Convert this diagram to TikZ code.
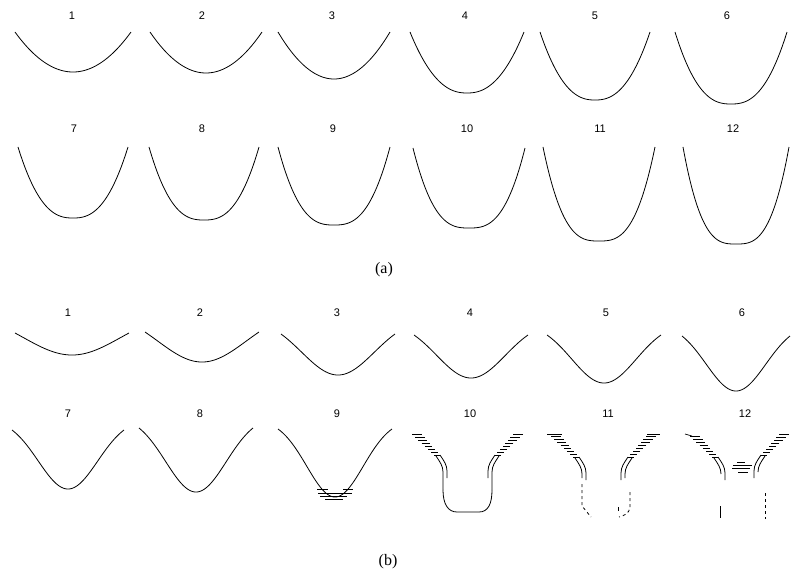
\documentclass[tikz,border=0pt]{standalone}
\usepackage{fontspec}
\setmainfont{Liberation Serif}
\newfontfamily\numfont{Liberation Sans}
\tikzset{
  curve/.style={line width=0.8pt, black},
  hline/.style={line width=0.7pt, black},
  dotline/.style={line width=0.8pt, black, dash pattern=on 3pt off 3pt},
  num/.style={font=\numfont\fontsize{11}{12}\selectfont, inner sep=0pt},
  captxt/.style={font=\fontsize{16}{18}\selectfont, inner sep=0pt}
}
% gaussian well: centre x, half width, top y, bottom y, width parameter
\newcommand\wellc[5]{%
  \draw[curve] plot[domain=-1:1, samples=80, variable=\u]
    ({#1+#2*\u},{#3+(#4-#3)*(exp(0-\u*\u/(#5*#5))-exp(0-1/(#5*#5)))/(1-exp(0-1/(#5*#5)))});}
% power well: centre x, half width, top y, bottom y, exponent
\newcommand\powc[5]{%
  \draw[curve] plot[domain=-1:1, samples=80, variable=\u]
    ({#1+#2*\u},{#3+(#4-#3)*(1-(abs(\u)+0.0001)^#5)});}
% hatched branch (left side, local coordinates), #1 = vertical length
\newcommand\hbranch[1]{%
  \foreach \i in {0,...,7}
    \draw[hline] ({3.2*\i},{3*\i}) -- ({3.2*\i+10-0.6*\i},{3*\i});
  \draw[curve] (24,22) .. controls (28,28) and (31,32) .. (31,38) -- (31,38+#1);
  \draw[curve] (28,21) .. controls (32,27) and (35,31) .. (35,37) -- (35,44);}
\begin{document}
\begin{tikzpicture}[x=1pt, y=-1pt]
\useasboundingbox (0,0) rectangle (792,582);
% ---------------- (a) ----------------
\foreach \n/\x in {1/72, 2/202, 3/332, 4/465, 5/595, 6/727}
  \node[num] (a\n) at (\x,16) {\n};
\foreach \n/\x in {7/74, 8/202, 9/333, 10/467, 11/600, 12/733}
  \node[num] (a\n) at (\x,129) {\n};
\powc{73}{58}{32}{72}{2.0}
\powc{206}{56}{32}{73}{2.0}
\powc{334}{56}{32}{79}{2.0}
\powc{467}{57}{32}{93}{2.3}
\powc{595}{55}{32}{100}{2.4}
\powc{731}{56}{32}{104}{2.5}
\powc{73}{55}{147}{218}{2.5}
\powc{204}{55}{147}{220}{2.6}
\powc{334}{56}{147}{225}{2.7}
\powc{469}{56}{148}{228}{2.8}
\powc{599}{56}{147}{241}{2.9}
\powc{736}{53}{147}{244}{3.0}
\node[captxt] (capa) at (384,270) {(a)};
% ---------------- (b) ----------------
\foreach \n/\x in {1/68, 2/200, 3/337, 4/470, 5/606, 6/742}
  \node[num] (b\n) at (\x,313) {\n};
\foreach \n/\x in {7/68, 8/200, 9/337, 10/470, 11/608, 12/745}
  \node[num] (b\n) at (\x,414) {\n};
\wellc{72}{57}{333}{355}{1.2}
\wellc{202}{57}{332}{362}{1.1}
\wellc{338}{57}{334}{375}{0.9}
\wellc{471}{57}{335}{378}{0.85}
\wellc{604}{57}{335}{383}{0.8}
\wellc{736}{54}{336}{391}{0.78}
\wellc{68}{56}{430}{489}{0.75}
\wellc{196}{57}{428}{492}{0.75}
\wellc{335}{57}{429}{497}{0.7}
% bottom hatch of 9
\draw[hline] (317,489) -- (328,489);
\draw[hline] (343,489) -- (353,489);
\draw[hline] (318,493) -- (352,493);
\draw[hline] (320,496) -- (347,496);
\draw[hline] (325,499) -- (343,499);
% 10
\begin{scope}[shift={(412,434)}]\hbranch{18}\end{scope}
\begin{scope}[shift={(523,434)}, xscale=-1]\hbranch{18}\end{scope}
\draw[curve] (443,490) .. controls (443,504) and (448,512) .. (457,512)
  -- (479,512) .. controls (488,512) and (492,504) .. (492,490);
% 11
\draw[hline] (547,434) -- (562,434);
\draw[hline] (647,434) -- (660,434);
\begin{scope}[shift={(551,436)}]\hbranch{4}\end{scope}
\begin{scope}[shift={(656,436)}, xscale=-1]\hbranch{4}\end{scope}
\draw[dotline] (582,484) -- (582,506) -- (591,517);
\draw[dotline] (630,492) -- (630,508) .. controls (629,513) and (624,516) .. (619,517);
\draw[hline] (618,507) -- (618,511);
% 12
\draw[hline] (685,434) -- (692,436);
\begin{scope}[shift={(690,436)}]\hbranch{0}\end{scope}
\begin{scope}[shift={(789,434)}, xscale=-1]\hbranch{0}\end{scope}
\draw[hline] (737,462) -- (745,462);
\draw[hline] (733,465) -- (752,465);
\draw[hline] (732,468) -- (750,468);
\draw[hline] (738,472) -- (748,472);
\draw[curve] (720,506) -- (720,518);
\draw[dotline] (765,493) -- (765,519);
\node[captxt] (capb) at (388,562) {(b)};
\end{tikzpicture}
\end{document}
